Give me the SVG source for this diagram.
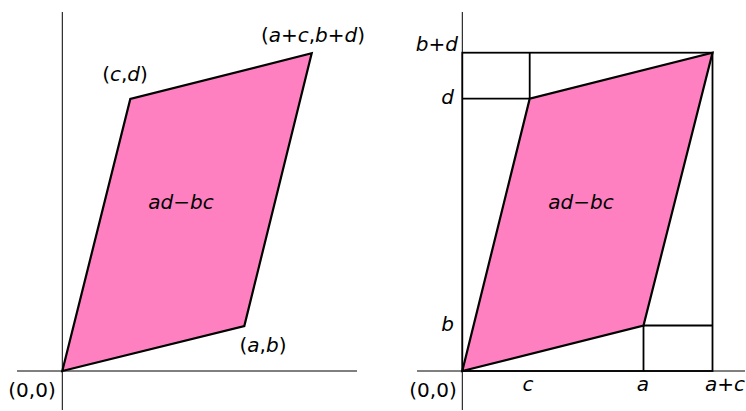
<svg xmlns="http://www.w3.org/2000/svg" width="746" height="411" viewBox="0 0 746 411">
<style>
.axis{stroke:#000;stroke-width:1;fill:none}
.pg{fill:#ff80c0;stroke:#000;stroke-width:2.2;stroke-linejoin:miter}
.grid{stroke:#000;stroke-width:1.8;fill:none}
text{font-family:"DejaVu Sans",sans-serif;font-size:20px;fill:#000}
.i{font-style:italic}
</style>
<rect width="746" height="411" fill="#fff"/>
<g id="left-panel">
  <g id="left-axes">
    <line class="axis" x1="62.3" y1="12" x2="62.3" y2="410"/>
    <line class="axis" x1="17" y1="371" x2="357" y2="371"/>
  </g>
  <g id="left-parallelogram">
    <polygon class="pg" points="62.3,371 244.3,326 311.7,53.3 130.3,99"/>
    <text x="181" y="209" text-anchor="middle" class="i">ad−bc</text>
  </g>
  <g id="label-ab"><text x="263" y="352" text-anchor="middle">(<tspan class="i">a</tspan>,<tspan class="i">b</tspan>)</text></g>
  <g id="label-cd"><text x="125" y="81" text-anchor="middle">(<tspan class="i">c</tspan>,<tspan class="i">d</tspan>)</text></g>
  <g id="label-acbd"><text x="313" y="41.7" text-anchor="middle">(<tspan class="i">a</tspan>+<tspan class="i">c</tspan>,<tspan class="i">b</tspan>+<tspan class="i">d</tspan>)</text></g>
  <g id="label-origin-left"><text x="32" y="396.5" text-anchor="middle">(0,0)</text></g>
</g>
<g id="right-panel">
  <g id="right-axes">
    <line class="axis" x1="462.3" y1="12" x2="462.3" y2="410"/>
    <line class="axis" x1="417" y1="371" x2="745" y2="371"/>
  </g>
  <g id="right-grid">
    <rect class="grid" x="462.3" y="52.7" width="250.2" height="318.3"/>
    <polyline class="grid" points="529.7,52.7 529.7,98.7 462.3,98.7"/>
    <polyline class="grid" points="643.5,371 643.5,325.5 712.5,325.5"/>
  </g>
  <g id="right-parallelogram">
    <polygon class="pg" points="462.3,371 643.5,325.5 712.5,52.7 529.7,98.7"/>
    <text x="581" y="209" text-anchor="middle" class="i">ad−bc</text>
  </g>
  <g id="right-labels">
    <text x="458" y="51" text-anchor="end"><tspan class="i">b</tspan>+<tspan class="i">d</tspan></text>
    <text x="454" y="104" text-anchor="end" class="i">d</text>
    <text x="454" y="331" text-anchor="end" class="i">b</text>
    <text x="433" y="396.5" text-anchor="middle">(0,0)</text>
    <text x="528" y="391" text-anchor="middle" class="i">c</text>
    <text x="643" y="391" text-anchor="middle" class="i">a</text>
    <text x="725" y="391" text-anchor="middle"><tspan class="i">a</tspan>+<tspan class="i">c</tspan></text>
  </g>
</g>
</svg>
